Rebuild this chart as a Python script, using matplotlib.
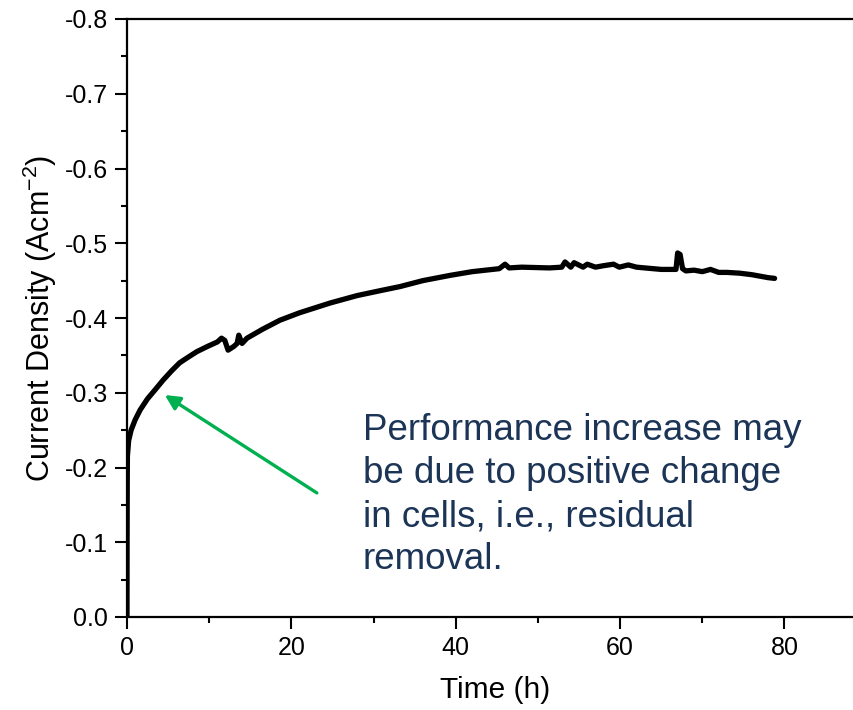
import matplotlib
matplotlib.use("Agg")
import matplotlib.pyplot as plt
from matplotlib.ticker import MultipleLocator

plt.rcParams['font.family'] = ['Liberation Sans', 'DejaVu Sans']
plt.rcParams['mathtext.fontset'] = 'custom'
plt.rcParams['mathtext.rm'] = 'Liberation Sans'
plt.rcParams['mathtext.it'] = 'Liberation Sans:italic'

# Data (time in h, current density in A/cm^2)
time_h = [0.0, 0.01, 0.03, 0.05, 0.2, 0.5, 1.0, 1.6, 2.5, 3.5, 4.4, 5.4, 6.4,
          7.5, 8.5, 9.8, 11.0, 11.5, 11.9, 12.3, 13.0, 13.4, 13.6, 14.0, 14.6,
          16.5, 18.6, 21.0, 24.7, 28.0, 31.0, 33.2, 36.0, 39.3, 42.0, 45.3,
          46.0, 46.5, 48.0, 51.4, 52.9, 53.3, 54.0, 54.4, 55.5, 56.0, 57.0,
          58.0, 59.2, 59.9, 61.0, 62.0, 63.0, 64.0, 65.0, 66.0, 66.8, 67.0,
          67.3, 67.6, 68.0, 69.0, 70.0, 71.0, 72.0, 73.0, 74.5, 76.0, 77.0,
          78.0, 78.8]
current_density = [0.0, -0.10, -0.18, -0.215, -0.236, -0.250, -0.264, -0.277,
                   -0.292, -0.305, -0.317, -0.329, -0.34, -0.348, -0.355,
                   -0.362, -0.368, -0.373, -0.370, -0.357, -0.362, -0.366,
                   -0.377, -0.366, -0.373, -0.385, -0.397, -0.407, -0.42,
                   -0.43, -0.437, -0.442, -0.45, -0.457, -0.462, -0.466,
                   -0.472, -0.467, -0.468, -0.467, -0.468, -0.475, -0.468,
                   -0.474, -0.468, -0.472, -0.468, -0.470, -0.472, -0.468,
                   -0.471, -0.468, -0.467, -0.466, -0.465, -0.465, -0.465,
                   -0.487, -0.485, -0.466, -0.463, -0.464, -0.462, -0.465,
                   -0.461, -0.461, -0.460, -0.458, -0.456, -0.454, -0.453]

x_ticks = [0, 20, 40, 60, 80]
y_ticks = [0.0, -0.1, -0.2, -0.3, -0.4, -0.5, -0.6, -0.7, -0.8]
y_tick_labels = ["0.0", "-0.1", "-0.2", "-0.3", "-0.4", "-0.5", "-0.6",
                 "-0.7", "-0.8"]

annotation_text = ("Performance increase may\nbe due to positive change\n"
                   "in cells, i.e., residual\nremoval.")
arrow_tail = (23.1, -0.166)
arrow_head = (4.6, -0.297)

fig = plt.figure(figsize=(8.54, 7.10), dpi=100)
ax = fig.add_axes([127/854, 1 - 617/710, 1 - 127/854 + 0.01, (617 - 19)/710])

ax.plot(time_h, current_density, color='black', lw=3.8, solid_joinstyle='round',
        solid_capstyle='round')

ax.set_xlim(0, 89.5)
ax.set_ylim(0.0, -0.8)
ax.set_xticks(x_ticks)
ax.set_yticks(y_ticks)
ax.set_yticklabels(y_tick_labels)
ax.xaxis.set_minor_locator(MultipleLocator(10))
ax.yaxis.set_minor_locator(MultipleLocator(0.05))
ax.tick_params(which='major', direction='out', length=8.5, width=1.5,
               labelsize=18, pad=5)
ax.tick_params(which='minor', direction='out', length=4, width=1.5)

for s in ['left', 'bottom', 'top']:
    ax.spines[s].set_linewidth(1.6)
ax.spines['right'].set_visible(False)

ax.set_xlabel("Time (h)", fontsize=21.5, labelpad=12)
ax.set_ylabel("Current Density (Acm$^{\\mathrm{-2}}$)", fontsize=22, labelpad=4)

ax.annotate("", xy=arrow_head, xytext=arrow_tail,
            arrowprops=dict(arrowstyle='-|>', color='#00b050', lw=2.4,
                            mutation_scale=22, shrinkA=0, shrinkB=0))

ax.text(28.7, -0.273, annotation_text, fontsize=26.5, color='#1c3557',
        ha='left', va='top', linespacing=1.3)

fig.savefig("out.png", dpi=100)
